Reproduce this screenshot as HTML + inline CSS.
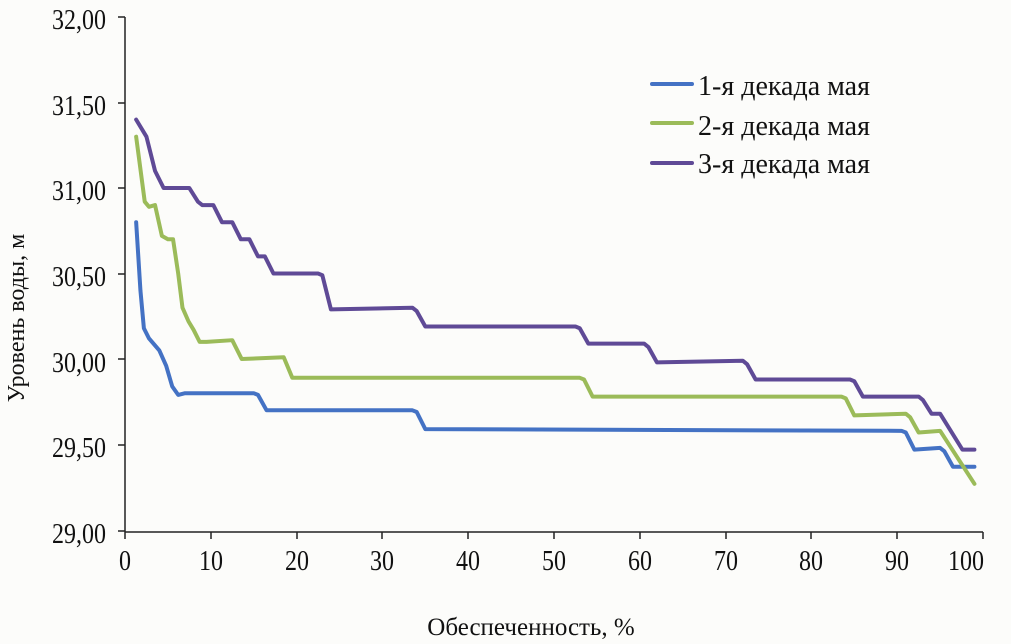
<!DOCTYPE html>
<html><head><meta charset="utf-8"><style>
body{margin:0;background:#fcfcfa;}
svg{display:block;font-family:"Liberation Serif",serif;}
</style></head><body>
<svg width="1011" height="644" xmlns="http://www.w3.org/2000/svg">
<rect width="1011" height="644" fill="#fcfcfa"/>
<g stroke="#222" stroke-width="1.5" fill="none">
<line x1="125" y1="17" x2="125" y2="532"/>
<line x1="125" y1="532" x2="983" y2="532"/>
<line x1="118" y1="17" x2="125" y2="17"/><line x1="118" y1="103" x2="125" y2="103"/>
<line x1="118" y1="188" x2="125" y2="188"/><line x1="118" y1="274" x2="125" y2="274"/>
<line x1="118" y1="359" x2="125" y2="359"/><line x1="118" y1="445" x2="125" y2="445"/>
<line x1="118" y1="531" x2="125" y2="531"/>
<line x1="125" y1="532" x2="125" y2="539"/><line x1="211" y1="532" x2="211" y2="539"/>
<line x1="297" y1="532" x2="297" y2="539"/><line x1="382" y1="532" x2="382" y2="539"/>
<line x1="468" y1="532" x2="468" y2="539"/><line x1="554" y1="532" x2="554" y2="539"/>
<line x1="640" y1="532" x2="640" y2="539"/><line x1="726" y1="532" x2="726" y2="539"/>
<line x1="811" y1="532" x2="811" y2="539"/><line x1="897" y1="532" x2="897" y2="539"/>
<line x1="983" y1="532" x2="983" y2="539"/>
</g>
<g font-size="24" fill="#111" text-anchor="end">
<text transform="translate(106,29) scale(1,1.2)">32,00</text>
<text transform="translate(106,115) scale(1,1.2)">31,50</text>
<text transform="translate(106,200) scale(1,1.2)">31,00</text>
<text transform="translate(106,286) scale(1,1.2)">30,50</text>
<text transform="translate(106,372) scale(1,1.2)">30,00</text>
<text transform="translate(106,457) scale(1,1.2)">29,50</text>
<text transform="translate(106,543) scale(1,1.2)">29,00</text>
</g>
<g font-size="24" fill="#111" text-anchor="middle">
<text transform="translate(125,570) scale(1,1.2)">0</text>
<text transform="translate(211,570) scale(1,1.2)">10</text>
<text transform="translate(297,570) scale(1,1.2)">20</text>
<text transform="translate(382,570) scale(1,1.2)">30</text>
<text transform="translate(468,570) scale(1,1.2)">40</text>
<text transform="translate(554,570) scale(1,1.2)">50</text>
<text transform="translate(640,570) scale(1,1.2)">60</text>
<text transform="translate(726,570) scale(1,1.2)">70</text>
<text transform="translate(811,570) scale(1,1.2)">80</text>
<text transform="translate(897,570) scale(1,1.2)">90</text>
<text transform="translate(966,570) scale(1,1.2)">100</text>
</g>
<text x="531" y="635" font-size="25" fill="#111" text-anchor="middle">Обеспеченность, %</text>
<text transform="translate(24,318) rotate(-90)" font-size="24" fill="#111" text-anchor="middle">Уровень воды, м</text>
<g transform="translate(125,17) scale(8.58,-171) translate(0,-32)" fill="none" stroke-width="4" stroke-linejoin="round" stroke-linecap="round">
<polyline vector-effect="non-scaling-stroke" stroke="#4472c4" points="1.3,30.8 1.8,30.4 2.2,30.18 2.8,30.12 4,30.05 4.8,29.96 5.5,29.84 6.2,29.79 7,29.8 15,29.8 15.5,29.79 16.5,29.7 33.5,29.7 34,29.69 35,29.59 90.5,29.58 91,29.57 92,29.47 95,29.48 95.5,29.46 96.5,29.37 99,29.37"/>
<polyline vector-effect="non-scaling-stroke" stroke="#9bbb59" points="1.3,31.3 2.3,30.92 2.8,30.89 3.5,30.9 4.3,30.72 5,30.7 5.6,30.7 6.2,30.5 6.7,30.3 7.4,30.22 8,30.17 8.7,30.1 9.5,30.1 12.5,30.11 13.6,30.0 18.5,30.01 19.5,29.89 53,29.89 53.5,29.88 54.5,29.78 83.5,29.78 84,29.77 85,29.67 91,29.68 91.5,29.66 92.5,29.57 95,29.58 99,29.27"/>
<polyline vector-effect="non-scaling-stroke" stroke="#5f4a96" points="1.3,31.4 2.5,31.3 3.5,31.1 4.5,31.0 7.5,31.0 8.5,30.92 9,30.9 10.3,30.9 11.3,30.8 12.5,30.8 13.5,30.7 14.5,30.7 15.5,30.6 16.3,30.6 17.3,30.5 22.5,30.5 23,30.49 24,30.29 33.5,30.3 34,30.28 35,30.19 52.5,30.19 53,30.18 54,30.09 60.5,30.09 61,30.07 62,29.98 72,29.99 72.5,29.97 73.5,29.88 84.5,29.88 85,29.87 86,29.78 92.5,29.78 93,29.76 94,29.68 95,29.68 97.6,29.47 99,29.47"/>
</g>
<g stroke-width="4" stroke-linecap="round">
<line x1="652" y1="84" x2="692" y2="84" stroke="#4472c4"/>
<line x1="652" y1="123" x2="692" y2="123" stroke="#9bbb59"/>
<line x1="652" y1="163" x2="692" y2="163" stroke="#5f4a96"/>
</g>
<g font-size="28" fill="#111">
<text x="698" y="95">1-я декада мая</text>
<text x="698" y="135">2-я декада мая</text>
<text x="698" y="173">3-я декада мая</text>
</g>
</svg>
</body></html>
